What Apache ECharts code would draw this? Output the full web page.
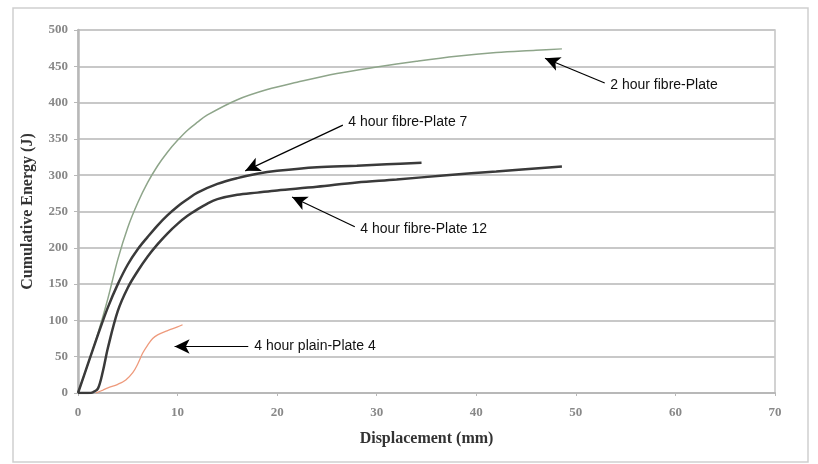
<!DOCTYPE html>
<html>
<head>
<meta charset="utf-8">
<script src="https://cdn.jsdelivr.net/npm/echarts@6/dist/echarts.min.js"></script>
<style>
  html, body { margin: 0; padding: 0; background: #fff; }
  #container { width: 818px; height: 464px; }
</style>
</head>
<body>
<div id="container"></div>
<script>
// data: [displacement mm, cumulative energy J]
const twoHourFibre = [
  [0, 0], [1, 40], [2, 82], [3, 130], [4, 184], [5, 228], [6, 262], [7, 290],
  [8, 313], [9, 332], [10, 348], [11, 362], [12, 373], [13, 383], [16, 404], [19, 418],
  [22, 428], [26, 440], [30, 449], [34, 457], [38, 464], [42, 469], [46, 472], [48.6, 474]
];
const fourHourPlate7 = [
  [0, 0], [1, 40], [2, 80], [3, 118], [4, 150], [5, 177], [6, 198], [7, 215],
  [8, 231], [9, 245], [10, 257], [11, 267], [12, 276], [14, 288], [16, 296],
  [18, 302], [20, 306], [24, 311], [28, 313], [31, 315], [34.5, 317]
];
const fourHourPlate12 = [
  [0, 0], [1, 0], [1.5, 1], [2, 6], [2.5, 30], [3, 62], [4, 113], [5, 145],
  [6, 168], [7, 188], [8, 205], [9, 220], [10, 233], [11, 244], [12, 253],
  [13, 261], [14, 267], [16, 273], [18, 276], [20, 279], [24, 284], [28, 290],
  [32, 294], [37, 300], [42, 305], [48.6, 312]
];
const plainPlate4 = [
  [1.8, 0], [2.5, 4], [3, 7], [4, 12], [4.8, 18], [5.5, 28], [6, 40], [6.5, 55],
  [7, 66], [7.5, 75], [8, 80], [9, 86], [10, 91], [10.5, 94]
];

// annotation arrows: [tail, tip] in data units, with their text
const notes = [
  { text: '2 hour fibre-Plate', from: [52.9, 427], to: [46.9, 461] },
  { text: '4 hour fibre-Plate 7', from: [26.6, 369], to: [16.8, 306] },
  { text: '4 hour fibre-Plate 12', from: [27.8, 229], to: [21.5, 270] },
  { text: '4 hour plain-Plate 4', from: [17.1, 64], to: [9.7, 64] }
];

const xTicks = [0, 10, 20, 30, 40, 50, 60, 70];
const yTicks = [0, 50, 100, 150, 200, 250, 300, 350, 400, 450, 500];

let dom = document.getElementById('container');
let myChart = echarts.init(dom);

function arrow(n) {
  return [
    {
      coord: n.from,
      label: {
        show: true,
        position: 'start',
        distance: 6,
        formatter: n.text,
        color: '#111',
        fontSize: 14,
        fontFamily: 'Liberation Sans, Arial, sans-serif'
      }
    },
    { coord: n.to }
  ];
}

function lineSeries(name, data, color, width, note) {
  return {
    name: name,
    type: 'line',
    data: data,
    smooth: 0.35,
    showSymbol: false,
    lineStyle: { color: color, width: width },
    itemStyle: { color: color },
    markLine: {
      silent: true,
      animation: false,
      symbol: ['none', 'arrow'],
      symbolSize: [11, 15],
      lineStyle: { color: '#000', width: 1.2, type: 'solid' },
      itemStyle: { color: '#000' },
      data: [arrow(note)]
    }
  };
}

const axisFont = 'Liberation Serif, Times New Roman, serif';

let option = {
  animation: false,
  backgroundColor: '#fff',
  graphic: [{
    type: 'rect',
    shape: { x: 13, y: 8, width: 795, height: 454 },
    style: { fill: 'none', stroke: '#cfcfcf', lineWidth: 1.5 },
    silent: true
  }],
  grid: { left: 78, right: 43, top: 30, bottom: 71, show: true, borderColor: '#c4c4c4', borderWidth: 1.5 },
  xAxis: {
    type: 'value',
    min: xTicks[0],
    max: xTicks[xTicks.length - 1],
    interval: 10,
    name: 'Displacement (mm)',
    nameLocation: 'middle',
    nameGap: 38,
    nameTextStyle: { fontFamily: axisFont, fontWeight: 'bold', fontSize: 16, color: '#333' },
    axisLine: { show: true, lineStyle: { color: '#b8b8b8', width: 2 } },
    axisTick: { show: true, length: 3, inside: false, lineStyle: { color: '#b8b8b8' } },
    axisLabel: { fontFamily: axisFont, fontSize: 13, fontWeight: 'bold', color: '#888', margin: 13 },
    splitLine: { show: false }
  },
  yAxis: {
    type: 'value',
    min: yTicks[0],
    max: yTicks[yTicks.length - 1],
    interval: 50,
    name: 'Cumulative Energy (J)',
    nameLocation: 'middle',
    nameGap: 42,
    nameRotate: 90,
    nameTextStyle: { fontFamily: axisFont, fontWeight: 'bold', fontSize: 16, color: '#333' },
    axisLine: { show: true, lineStyle: { color: '#b8b8b8', width: 2.5 } },
    axisTick: { show: true, length: 4, lineStyle: { color: '#b8b8b8' } },
    axisLabel: { fontFamily: axisFont, fontSize: 13, fontWeight: 'bold', color: '#888', margin: 10 },
    splitLine: { show: true, lineStyle: { color: '#c8c8c8', width: 2 } }
  },
  series: [
    lineSeries('2 hour fibre-Plate', twoHourFibre, '#8ea58a', 1.5, notes[0]),
    lineSeries('4 hour fibre-Plate 7', fourHourPlate7, '#3a3a3a', 2.5, notes[1]),
    lineSeries('4 hour fibre-Plate 12', fourHourPlate12, '#3a3a3a', 2.5, notes[2]),
    lineSeries('4 hour plain-Plate 4', plainPlate4, '#ee9a7c', 1.3, notes[3])
  ]
};

myChart.setOption(option);
</script>
</body>
</html>
